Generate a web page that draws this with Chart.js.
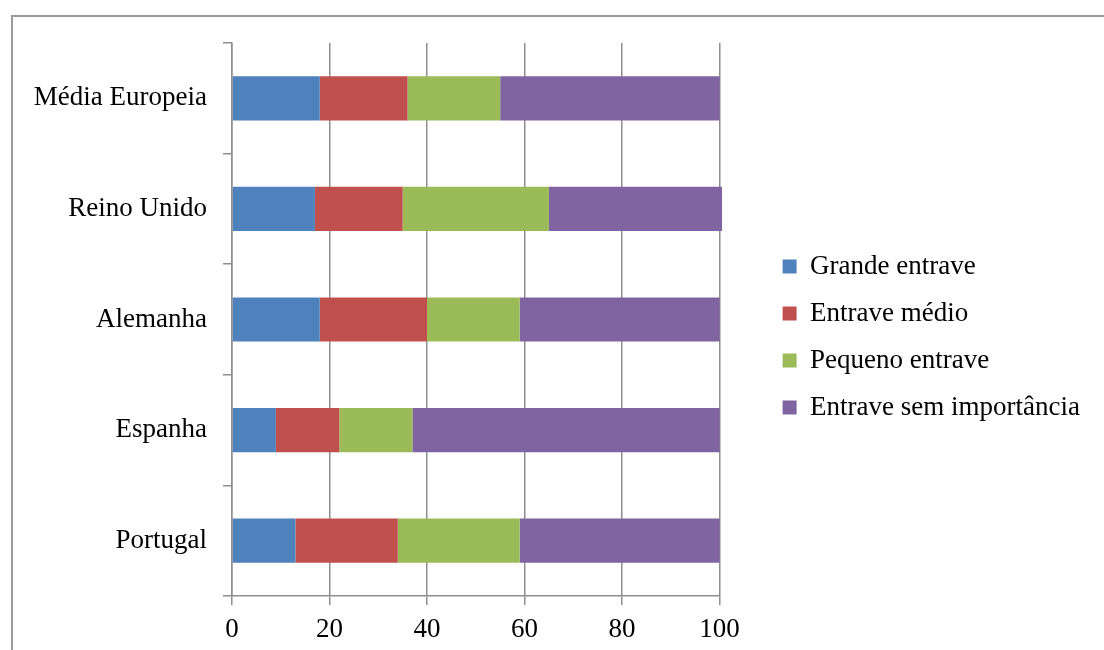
<!DOCTYPE html>
<html>
<head>
<meta charset="utf-8">
<script src="https://cdn.jsdelivr.net/npm/chart.js@4"></script>
<style>
  html, body { margin: 0; padding: 0; background: #fff; overflow: hidden; }
  #frame { position: absolute; left: 11px; top: 15px; width: 1200px; height: 700px; border: 2px solid #9a9a9a; }
  #mainChart { position: absolute; left: 0; top: 0; }
</style>
</head>
<body>
<div id="frame"></div>
<canvas id="mainChart" width="1104" height="650"></canvas>
<script>
const categories = ['Média Europeia', 'Reino Unido', 'Alemanha', 'Espanha', 'Portugal'];
const grandeEntrave = [18, 17, 18, 9, 13];
const entraveMedio = [18, 18, 22, 13, 21];
const pequenoEntrave = [19, 30, 19, 15, 25];
const semImportancia = [45, 35.5, 41, 63, 41];
const xTickValues = [0, 20, 40, 60, 80, 100];

const seriesNames = ['Grande entrave', 'Entrave médio', 'Pequeno entrave', 'Entrave sem importância'];
const seriesColors = ['#4f81bd', '#c0504d', '#9bbb59', '#8064a2'];
const gridColor = '#8e8e8e';
const font = { family: 'Liberation Serif', size: 27 };

// empty axes used only as spacers around the plot
const spacer = (axis, position, size) => ({
    axis: axis,
    type: 'linear',
    position: position,
    grid: { display: false },
    border: { display: false },
    ticks: { display: false },
    afterFit: s => { if (axis === 'x') s.height = size; else s.width = size; }
});

const ctx = document.getElementById('mainChart').getContext('2d');
const chart = new Chart(ctx, {
    type: 'bar',
    data: {
        labels: categories,
        datasets: [grandeEntrave, entraveMedio, pequenoEntrave, semImportancia].map((vals, i) => ({
            label: seriesNames[i],
            data: vals,
            backgroundColor: seriesColors[i],
            borderWidth: 0,
            barPercentage: 0.4,
            categoryPercentage: 1,
            clip: false
        }))
    },
    options: {
        indexAxis: 'y',
        responsive: false,
        animation: false,
        layout: { padding: { top: 24, left: 0, right: 14, bottom: 0 } },
        scales: {
            x: {
                stacked: true,
                min: 0,
                max: 100,
                afterBuildTicks: s => { s.ticks = xTickValues.map(v => ({ value: v })); },
                afterFit: s => { s.height = 54; },
                grid: { color: gridColor, lineWidth: 1.5, tickLength: 9 },
                border: { color: gridColor, width: 1.5 },
                ticks: { color: '#000', font: font, padding: 9 }
            },
            y: {
                stacked: true,
                afterFit: s => { s.width = 232; },
                grid: { offset: true, drawOnChartArea: false, color: gridColor, lineWidth: 1.5, tickLength: 9 },
                border: { color: gridColor, width: 1.5 },
                ticks: { color: '#000', font: font, padding: 16 }
            },
            padTop: spacer('x', 'top', 19),
            padRight: spacer('y', 'right', 43)
        },
        plugins: {
            legend: {
                position: 'right',
                align: 'center',
                maxWidth: 400,
                labels: { boxWidth: 14, boxHeight: 14, padding: 20, color: '#000', font: font }
            },
            tooltip: { enabled: false }
        }
    }
});
</script>
</body>
</html>
